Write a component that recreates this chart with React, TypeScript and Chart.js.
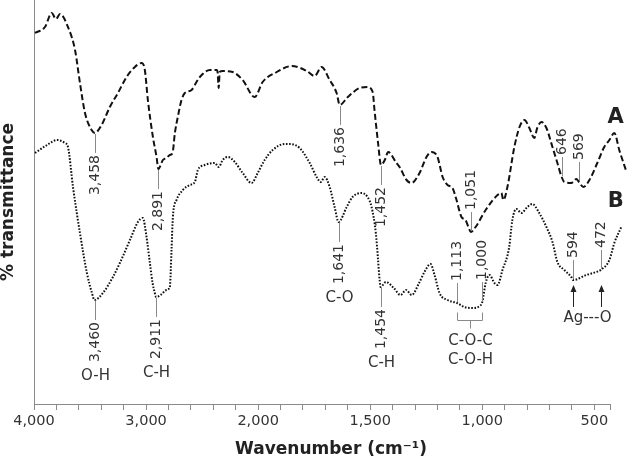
import React, { useEffect, useRef } from "react";
import { Chart, registerables } from "chart.js";

Chart.register(...registerables);

// ---------- data (wavenumber in cm-1, transmittance in arbitrary %) ----------
const wavenumbersA = [3991, 3902, 3842, 3804, 3768, 3697, 3634, 3590, 3545, 3486, 3458, 3397, 3323, 3251, 3174, 3100, 3040, 3011, 2984, 2939, 2905, 2891, 2850, 2818, 2788, 2764, 2743, 2717, 2684, 2654, 2594, 2550, 2520, 2431, 2369, 2362, 2352, 2343, 2316, 2227, 2138, 2031, 1980, 1917, 1850, 1783, 1748, 1717, 1681, 1650, 1636, 1600, 1547, 1512, 1489, 1481, 1465, 1452, 1435, 1420, 1383, 1369, 1338, 1316, 1280, 1249, 1227, 1200, 1177, 1155, 1133, 1115, 1093, 1075, 1062, 1051, 1030, 985, 932, 915, 906, 888, 857, 834, 812, 790, 768, 755, 736, 714, 687, 665, 646, 634, 603, 580, 569, 549, 522, 487, 456, 433, 411, 389, 358];
const transmittanceA = [92.75, 94.25, 97.75, 96.25, 97.5, 94.25, 88.5, 80.25, 72.75, 68.5, 67.75, 69.75, 74.25, 77.75, 81.75, 84.25, 85.25, 83.5, 76, 66.75, 61.5, 58.75, 61, 61.5, 62.25, 62.75, 67.75, 71.75, 76, 77.75, 78.5, 80.5, 81.75, 83.5, 83.5, 83, 79, 83, 83.25, 83, 81, 76.75, 80.5, 83, 84.5, 83.25, 82, 84.25, 81, 77.75, 74.75, 76.75, 79, 79.25, 78, 73.5, 65.25, 59.75, 61, 63, 60.25, 59.25, 56, 55.25, 57.75, 61.75, 63, 61.75, 56.75, 54.75, 54, 51, 46.75, 46, 44.25, 43, 44.25, 48.5, 52.25, 52.75, 51, 54.25, 64.25, 69.25, 71, 69, 66.5, 69, 70.5, 69, 64.25, 60.25, 56.75, 55.5, 55.25, 56.25, 55.5, 54.25, 56, 60.25, 64.25, 66, 67.75, 63.5, 58.25];

const wavenumbersB = [3991, 3884, 3795, 3724, 3697, 3652, 3590, 3528, 3483, 3460, 3385, 3296, 3234, 3144, 3073, 3029, 2996, 2966, 2942, 2922, 2911, 2870, 2818, 2788, 2773, 2761, 2728, 2672, 2610, 2565, 2538, 2476, 2387, 2352, 2316, 2271, 2208, 2138, 2058, 2004, 1971, 1935, 1882, 1859, 1815, 1770, 1739, 1721, 1703, 1681, 1659, 1641, 1605, 1579, 1538, 1512, 1494, 1475, 1465, 1458, 1454, 1430, 1395, 1365, 1340, 1315, 1282, 1258, 1231, 1213, 1191, 1155, 1113, 1080, 1044, 1012, 1000, 985, 968, 946, 932, 910, 880, 866, 848, 826, 799, 777, 746, 714, 687, 665, 634, 603, 594, 536, 492, 472, 433, 411, 380];
const transmittanceB = [62.75, 64.75, 66, 65.25, 64.25, 54.25, 42.75, 32.75, 27.75, 26, 27.75, 31.75, 35.25, 41, 45.5, 46.5, 41.75, 35.25, 30.25, 27.75, 26.75, 27.25, 28.5, 29.25, 38.5, 46.75, 51, 53.5, 54.75, 55.5, 58.5, 59.75, 60.25, 59.25, 61, 61.75, 60.5, 57.75, 55.25, 57.75, 61, 63.5, 65, 65, 64, 60.25, 56.75, 55.5, 56.75, 54.25, 49.25, 45.5, 49.25, 51.75, 52.75, 51.75, 49.25, 42.75, 36, 31, 29.25, 30.5, 29, 27.25, 28.5, 27.25, 30.25, 33, 35, 32.25, 27.75, 26, 25.25, 24.25, 24, 24.5, 25.5, 30.25, 32.25, 30.25, 29.75, 33.5, 39.25, 46, 48.75, 47.75, 49.25, 50, 47.75, 44.25, 40.5, 35.5, 33.5, 31.75, 31, 32.25, 33, 33.5, 36, 40.25, 44.25];

const xTickLabels = [4000, 3000, 2000, 1500, 1000, 500];
const axisEndWavenumber = 430;

const peaksA = [
  { wn: 3458, text: "3,458", side: "below" },
  { wn: 2891, text: "2,891", side: "below" },
  { wn: 1636, text: "1,636", side: "below" },
  { wn: 1452, text: "1,452", side: "below" },
  { wn: 1051, text: "1,051", side: "above" },
  { wn: 646, text: "646", side: "above" },
  { wn: 569, text: "569", side: "above" },
];
const peaksB = [
  { wn: 3460, text: "3,460", side: "below", group: "O-H" },
  { wn: 2911, text: "2,911", side: "below", group: "C-H" },
  { wn: 1641, text: "1,641", side: "below", group: "C-O" },
  { wn: 1454, text: "1,454", side: "below", group: "C-H" },
  { wn: 1113, text: "1,113", side: "above" },
  { wn: 1000, text: "1,000", side: "above" },
  { wn: 594, text: "594", side: "above" },
  { wn: 472, text: "472", side: "above" },
];
const bracketBand = { from: 1113, to: 1000, lines: ["C-O-C", "C-O-H"] };
const arrowBand = { from: 594, to: 472, text: "Ag---O" };
const seriesNames = ["A", "B"];
const seriesNameWavenumber = 405;
const seriesNameLevels = [71.5, 50.5];

// ---------- helpers ----------
const BREAK_WN = 2000;
const toAxis = (w: number) => (w > BREAK_WN ? BREAK_WN + (w - BREAK_WN) / 2 : w);
const fromAxis = (v: number) => (v > BREAK_WN ? BREAK_WN + (v - BREAK_WN) * 2 : v);

function valueAt(wns: number[], vals: number[], w: number) {
  for (let i = 0; i < wns.length - 1; i++) {
    const a = wns[i];
    const b = wns[i + 1];
    if (w <= a && w >= b) {
      const t = a === b ? 0 : (a - w) / (a - b);
      return vals[i] + (vals[i + 1] - vals[i]) * t;
    }
  }
  return vals[vals.length - 1];
}

const FONT = '"DejaVu Sans", "Liberation Sans", sans-serif';
const AXIS_COLOR = "#8a8a8a";
const LEADER_COLOR = "#8a8a8a";
const TEXT_COLOR = "#333333";

const annotationPlugin = {
  id: "ftirAnnotations",
  afterDatasetsDraw(chart: any) {
    const { ctx, scales } = chart;
    const xs = scales.x;
    const ys = scales.y;
    const X = (w: number) => xs.getPixelForValue(toAxis(w));
    const Y = (t: number) => ys.getPixelForValue(t);
    ctx.save();

    // x-axis line (ends before the data does)
    ctx.strokeStyle = AXIS_COLOR;
    ctx.lineWidth = 1;
    ctx.beginPath();
    ctx.moveTo(xs.left, Math.round(ys.bottom) + 0.5);
    ctx.lineTo(X(axisEndWavenumber), Math.round(ys.bottom) + 0.5);
    ctx.stroke();

    const rotated = (text: string, x: number, y: number, align: string) => {
      ctx.save();
      ctx.translate(x, y);
      ctx.rotate(-Math.PI / 2);
      ctx.textAlign = align;
      ctx.textBaseline = "middle";
      ctx.fillText(text, 0, 0);
      ctx.restore();
    };

    const drawPeaks = (wns: number[], vals: number[], peaks: any[]) => {
      peaks.forEach((p) => {
        const x = Math.round(X(p.wn)) + 0.5;
        const yc = Y(valueAt(wns, vals, p.wn));
        ctx.strokeStyle = LEADER_COLOR;
        ctx.lineWidth = 1;
        ctx.beginPath();
        if (p.side === "below") {
          ctx.moveTo(x, yc + 1);
          ctx.lineTo(x, yc + 20);
        } else {
          ctx.moveTo(x, yc - 1);
          ctx.lineTo(x, yc - 20);
        }
        ctx.stroke();
        ctx.font = `14px ${FONT}`;
        ctx.fillStyle = TEXT_COLOR;
        const tw = ctx.measureText(p.text).width;
        if (p.side === "below") rotated(p.text, x, yc + 22, "right");
        else rotated(p.text, x, yc - 22, "left");
        if (p.group) {
          ctx.font = `15px ${FONT}`;
          ctx.textAlign = "center";
          ctx.textBaseline = "middle";
          ctx.fillText(p.group, x, yc + 22 + tw + 14);
        }
      });
    };
    drawPeaks(wavenumbersA, transmittanceA, peaksA);
    drawPeaks(wavenumbersB, transmittanceB, peaksB);

    // bracket for C-O-C / C-O-H
    {
      const x1 = Math.round(X(bracketBand.from)) + 0.5;
      const x2 = Math.round(X(bracketBand.to)) + 0.5;
      const yc = Math.max(
        Y(valueAt(wavenumbersB, transmittanceB, bracketBand.from)),
        Y(valueAt(wavenumbersB, transmittanceB, bracketBand.to))
      );
      const bar = Math.round(yc + 17) + 0.5;
      const xm = Math.round((x1 + x2) / 2) + 0.5;
      ctx.strokeStyle = LEADER_COLOR;
      ctx.lineWidth = 1;
      ctx.beginPath();
      ctx.moveTo(x1, bar - 8);
      ctx.lineTo(x1, bar);
      ctx.lineTo(x2, bar);
      ctx.lineTo(x2, bar - 8);
      ctx.moveTo(xm, bar);
      ctx.lineTo(xm, bar + 8);
      ctx.stroke();
      ctx.font = `15px ${FONT}`;
      ctx.fillStyle = TEXT_COLOR;
      ctx.textAlign = "center";
      ctx.textBaseline = "middle";
      ctx.fillText(bracketBand.lines[0], xm, yc + 38);
      ctx.fillText(bracketBand.lines[1], xm, yc + 57);
    }

    // Ag---O arrows
    {
      const xa = Math.round(X(arrowBand.from)) + 0.5;
      const xb = Math.round(X(arrowBand.to)) + 0.5;
      const yc = Y(valueAt(wavenumbersB, transmittanceB, arrowBand.from));
      const tip = yc + 5;
      const tail = yc + 27;
      [xa, xb].forEach((x) => {
        ctx.strokeStyle = "#222";
        ctx.lineWidth = 1;
        ctx.beginPath();
        ctx.moveTo(x, tail);
        ctx.lineTo(x, tip + 5);
        ctx.stroke();
        ctx.fillStyle = "#222";
        ctx.beginPath();
        ctx.moveTo(x, tip);
        ctx.lineTo(x - 3, tip + 7);
        ctx.lineTo(x + 3, tip + 7);
        ctx.closePath();
        ctx.fill();
      });
      ctx.font = `15px ${FONT}`;
      ctx.fillStyle = TEXT_COLOR;
      ctx.textAlign = "center";
      ctx.textBaseline = "middle";
      ctx.fillText(arrowBand.text, (xa + xb) / 2, yc + 38);
    }

    // series names
    ctx.font = `bold 21px ${FONT}`;
    ctx.fillStyle = "#222";
    ctx.textAlign = "center";
    ctx.textBaseline = "middle";
    seriesNames.forEach((n, i) => {
      ctx.fillText(n, X(seriesNameWavenumber), Y(seriesNameLevels[i]));
    });

    ctx.restore();
  },
};

export default function App() {
  const canvasRef = useRef<HTMLCanvasElement | null>(null);

  useEffect(() => {
    document.body.style.margin = "0";
    const canvas = canvasRef.current;
    if (!canvas) return;

    const pointsA = wavenumbersA.map((w, i) => ({ x: toAxis(w), y: transmittanceA[i] }));
    const pointsB = wavenumbersB.map((w, i) => ({ x: toAxis(w), y: transmittanceB[i] }));

    const tickValues: number[] = [];
    for (let v = toAxis(4000); v >= toAxis(500); v -= 100) tickValues.push(v);
    tickValues.push(toAxis(axisEndWavenumber));

    const chart = new Chart(canvas, {
      type: "line",
      data: {
        datasets: [
          {
            label: "A",
            data: pointsA,
            borderColor: "#111",
            borderWidth: 2,
            borderDash: [6, 3],
            pointRadius: 0,
            fill: false,
            cubicInterpolationMode: "monotone",
          },
          {
            label: "B",
            data: pointsB,
            borderColor: "#111",
            borderWidth: 2,
            borderDash: [1.6, 1.6],
            pointRadius: 0,
            fill: false,
            cubicInterpolationMode: "monotone",
          },
        ],
      },
      options: {
        animation: false,
        responsive: false,
        devicePixelRatio: 1,
        layout: { padding: 0 },
        plugins: { legend: { display: false }, tooltip: { enabled: false } },
        scales: {
          x: {
            type: "linear",
            reverse: true,
            min: 350,
            max: toAxis(4000),
            afterBuildTicks: (scale: any) => {
              scale.ticks = tickValues.map((v) => ({ value: v }));
            },
            afterFit: (scale: any) => {
              scale.height = 59;
            },
            ticks: {
              autoSkip: false,
              maxRotation: 0,
              padding: 3,
              color: TEXT_COLOR,
              font: { family: FONT, size: 14.5 },
              callback: (value: any) => {
                const w = Math.round(fromAxis(Number(value)));
                return xTickLabels.includes(w) ? w.toLocaleString("en-US") : "";
              },
            },
            grid: {
              display: true,
              drawOnChartArea: false,
              drawTicks: true,
              tickLength: 6,
              color: AXIS_COLOR,
            },
            border: { display: false },
            title: {
              display: true,
              text: "Wavenumber (cm\u207B\u00B9)",
              color: "#222",
              font: { family: FONT, size: 17, weight: "bold" },
              padding: { top: 0, bottom: 3 },
            },
          },
          y: {
            type: "linear",
            min: 0,
            max: 101,
            afterFit: (scale: any) => {
              scale.width = 34;
            },
            ticks: { display: false },
            grid: { display: false },
            border: { display: true, color: AXIS_COLOR, width: 1 },
            title: {
              display: true,
              text: "% transmittance",
              color: "#222",
              font: { family: FONT, size: 17, weight: "bold", lineHeight: 1.05 },
              padding: 0,
            },
          },
        },
      },
      plugins: [annotationPlugin],
    } as any);

    return () => chart.destroy();
  }, []);

  return (
    <div style={{ width: 628, height: 463 }}>
      <canvas ref={canvasRef} width={628} height={463} />
    </div>
  );
}
